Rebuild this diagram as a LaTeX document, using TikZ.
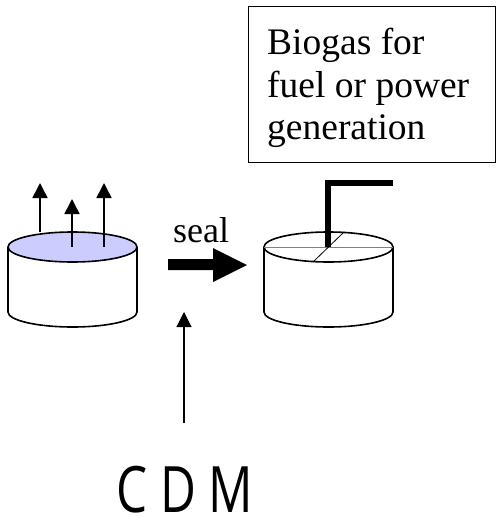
\documentclass[tikz,border=0pt]{standalone}
\usepackage{fontspec}
\setmainfont{Liberation Serif}
\newfontfamily\cdmfont{Open Sans}
\usetikzlibrary{arrows.meta}

\tikzset{
  vessel/.style={line width=1.6pt},
  gasarrow/.style={line width=1.6pt, -{Triangle[width=15pt,length=15pt]}},
  feedarrow/.style={line width=1.2pt, -{Triangle[width=15pt,length=15pt]}},
  pipe/.style={line width=6pt, line join=miter},
  label/.style={inner sep=0pt, anchor=base west, font=\fontsize{36}{42}\selectfont},
  boxtext/.style={label, font=\fontsize{37.5}{42}\selectfont},
}

\begin{document}
\begin{tikzpicture}[x=1pt, y=-1pt]
\useasboundingbox (0,0) rectangle (497,519);

% open lagoon (left)
\draw[vessel] (8,247) -- (8,312) arc[start angle=180, end angle=0, x radius=64.5, y radius=15] -- (137,247);
\draw[vessel, fill={rgb,255:red,204;green,204;blue,255}] (72.5,247) ellipse [x radius=64.5, y radius=15];
\coordinate (g1s) at (40,232);  \coordinate (g1e) at (40,183);
\coordinate (g2s) at (72,247);  \coordinate (g2e) at (72,199);
\coordinate (g3s) at (104,247); \coordinate (g3e) at (104,183);
\draw[gasarrow] (g1s) -- (g1e);
\draw[gasarrow] (g2s) -- (g2e);
\draw[gasarrow] (g3s) -- (g3e);

% covered digester (right)
\draw[vessel] (264,247) -- (264,312) arc[start angle=180, end angle=0, x radius=64.5, y radius=15] -- (393,247);
\draw[vessel] (328.5,247) ellipse [x radius=64.5, y radius=15];
\draw[line width=0.8pt, gray] (264,247) -- (393,247);
\draw[line width=0.8pt] (313,262) -- (344,232);
\draw[pipe] (328,247) -- (328,183) -- (393,183);

% seal arrow
\fill (168,259) -- (213,259) -- (213,248) -- (247,265) -- (213,282) -- (213,270) -- (168,270) -- cycle;
\node[label] (seal) at (173,242) {seal};

% biogas use
\draw[line width=1pt] (248,7) rectangle (495,162);
\node[boxtext] (bio1) at (267,55) {Biogas for};
\node[boxtext] (bio2) at (267,97) {fuel or power};
\node[boxtext] (bio3) at (267,139) {generation};

% CDM
\node[inner sep=0pt, anchor=base west, font=\cdmfont\fontsize{64}{64}\selectfont] (cdm) at (116,512) {\scalebox{0.77}[1]{C D M}};
\coordinate (cdmtop) at (184,423);
\coordinate (sealfoot) at (184,312);
\draw[feedarrow] (cdmtop) -- (sealfoot);
\end{tikzpicture}
\end{document}
